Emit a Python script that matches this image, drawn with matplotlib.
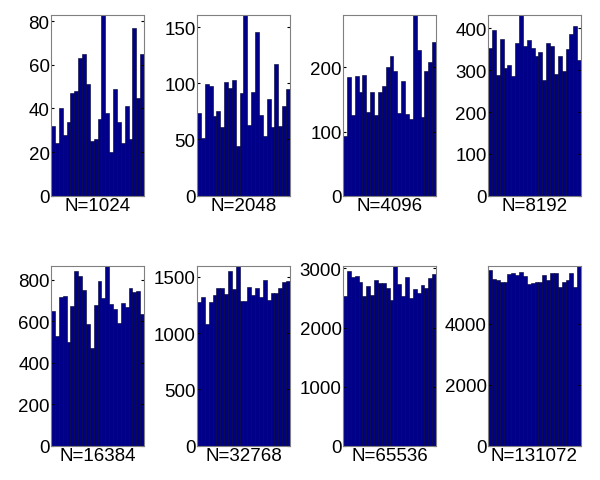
import matplotlib
matplotlib.use("Agg")
import matplotlib.pyplot as plt
import numpy as np

labels = ["N=1024", "N=2048", "N=4096", "N=8192",
          "N=16384", "N=32768", "N=65536", "N=131072"]

h1024 = [32, 24, 40, 28, 34, 47, 48, 63, 65, 51, 25, 26, 35, 83, 38, 20, 49, 34, 24, 41, 26, 77, 45, 65]
h2048 = [74, 51, 99, 98, 71, 75, 61, 101, 96, 103, 44, 91, 161, 63, 92, 146, 72, 53, 86, 61, 117, 62, 80, 95]
h4096 = [93, 185, 125, 187, 161, 188, 130, 162, 126, 161, 171, 200, 217, 194, 129, 178, 127, 119, 282, 227, 123, 194, 208, 239]
h8192 = [353, 397, 289, 375, 305, 313, 287, 365, 433, 359, 373, 353, 335, 343, 277, 365, 357, 291, 335, 298, 351, 387, 405, 325]
h16384 = [647, 527, 715, 719, 501, 675, 840, 815, 750, 585, 469, 678, 792, 710, 867, 681, 659, 591, 686, 670, 758, 739, 747, 636]
h32768 = [1272, 1322, 1080, 1278, 1337, 1402, 1402, 1343, 1550, 1390, 1598, 1281, 1287, 1408, 1340, 1396, 1320, 1470, 1293, 1352, 1355, 1396, 1450, 1464]
h65536 = [2538, 2961, 2848, 2876, 2764, 2527, 2707, 2555, 2809, 2747, 2758, 2662, 2470, 3046, 2741, 2538, 2848, 2499, 2651, 2583, 2718, 2673, 2831, 2905]
h131072 = [5784, 5477, 5455, 5368, 5368, 5641, 5674, 5608, 5718, 5587, 5313, 5335, 5368, 5390, 5608, 5455, 5674, 5674, 5203, 5390, 5455, 5674, 5203, 5915]

counts = [h1024, h2048, h4096, h8192, h16384, h32768, h65536, h131072]
yticks = [[0, 20, 40, 60, 80], [0, 50, 100, 150], [0, 100, 200],
          [0, 100, 200, 300, 400], [0, 200, 400, 600, 800],
          [0, 500, 1000, 1500], [0, 1000, 2000, 3000], [0, 2000, 4000]]

plt.rcParams['font.family'] = ['Liberation Sans', 'DejaVu Sans']
fig = plt.figure(figsize=(6.0, 4.81), dpi=100)

lefts = [51, 197, 343, 488]
W, H = 600.0, 481.0
rows = [(15.7, 196.7), (266.7, 446.7)]

for i, (lab, c, yt) in enumerate(zip(labels, counts, yticks)):
    r, col = divmod(i, 4)
    top, bot = rows[r]
    ax = fig.add_axes([lefts[col] / W, 1 - bot / H, 93 / W, (bot - top) / H])
    x = np.arange(len(c)) + 0.5
    ax.bar(x, c, width=1.0, color='#000088', edgecolor='#000030', linewidth=0.4)
    ax.set_xlim(0, len(c))
    ax.set_ylim(0, max(c))
    ax.set_yticks(yt)
    ax.set_xticks([])
    ax.tick_params(axis='y', direction='in', length=2, labelsize=13.5, right=True, pad=1)
    for s in ax.spines.values():
        s.set_color('#808080')
        s.set_linewidth(0.8)
    ax.set_xlabel(lab, fontsize=13.5, labelpad=1)

fig.savefig("out.png", dpi=100)
